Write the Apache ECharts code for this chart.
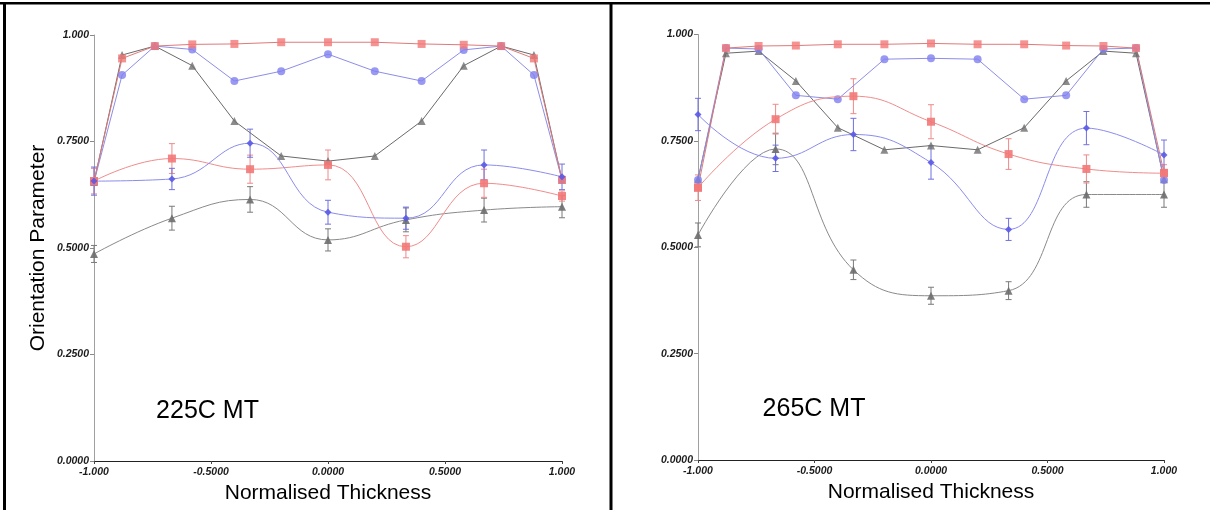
<!DOCTYPE html>
<html>
<head>
<meta charset="utf-8">
<script src="https://cdn.jsdelivr.net/npm/echarts@6/dist/echarts.min.js"></script>
<style>
  html, body { margin: 0; padding: 0; background: #fff; }
  #chart { width: 1210px; height: 510px; }
</style>
</head>
<body>
<div id="chart"></div>
<script>
// Through-thickness positions
const xOuter = [-1, -0.88, -0.74, -0.58, -0.4, -0.2, 0, 0.2, 0.4, 0.58, 0.74, 0.88, 1];
const xInner = [-1, -0.667, -0.333, 0, 0.333, 0.667, 1];

// Axis tick values
const yTicks = [0, 0.25, 0.5, 0.75, 1];
const xTicks = [-1, -0.5, 0, 0.5, 1];

// Panel titles
const panelTitles = ['225C MT', '265C MT'];

// 225C MT
const outerRed225  = [0.657, 0.945, 0.974, 0.978, 0.979, 0.983, 0.983, 0.983, 0.979, 0.977, 0.974, 0.945, 0.660];
const outerBlue225 = [0.655, 0.906, 0.974, 0.966, 0.892, 0.915, 0.955, 0.915, 0.892, 0.965, 0.974, 0.906, 0.660];
const outerGray225 = [0.655, 0.953, 0.974, 0.928, 0.798, 0.716, 0.704, 0.716, 0.798, 0.928, 0.974, 0.953, 0.660];
const innerBlue225 = [0.657, 0.662, 0.746, 0.584, 0.570, 0.695, 0.667];
const innerBlueErr225 = [0.033, 0.025, 0.033, 0.028, 0.026, 0.035, 0.030];
const innerRed225 = [0.657, 0.710, 0.685, 0.695, 0.503, 0.652, 0.622];
const innerRedErr225 = [0.030, 0.035, 0.033, 0.035, 0.026, 0.033, 0.012];
const innerGray225 = [0.486, 0.570, 0.614, 0.519, 0.566, 0.589, 0.597];
const innerGrayErr225 = [0.020, 0.028, 0.030, 0.026, 0.028, 0.028, 0.026];

// 265C MT
const outerRed265  = [0.640, 0.968, 0.973, 0.974, 0.977, 0.977, 0.979, 0.977, 0.977, 0.974, 0.973, 0.968, 0.675];
const outerBlue265 = [0.658, 0.968, 0.966, 0.857, 0.848, 0.942, 0.944, 0.942, 0.848, 0.857, 0.966, 0.968, 0.658];
const outerGray265 = [0.660, 0.956, 0.961, 0.891, 0.781, 0.729, 0.739, 0.729, 0.781, 0.891, 0.961, 0.956, 0.660];
const innerBlue265 = [0.812, 0.709, 0.765, 0.699, 0.542, 0.780, 0.717];
const innerBlueErr265 = [0.038, 0.031, 0.038, 0.039, 0.026, 0.039, 0.035];
const innerRed265 = [0.640, 0.801, 0.855, 0.795, 0.719, 0.684, 0.674];
const innerRedErr265 = [0.030, 0.035, 0.041, 0.040, 0.036, 0.033, 0.020];
const innerGray265 = [0.529, 0.731, 0.447, 0.386, 0.398, 0.624, 0.624];
const innerGrayErr265 = [0.028, 0.037, 0.023, 0.020, 0.021, 0.030, 0.030];

const RED = '#f27878', BLUE = '#7f7ff0', GRAY = '#6e6e6e', DBLUE = '#5a5ae6';

const pairs = (xs, ys) => xs.map((x, i) => [x, ys[i]]);
const bars = (xs, ys, es) => xs.map((x, i) => [x, ys[i] - es[i], ys[i] + es[i]]);

const tickFont = { fontFamily: 'Liberation Sans, Arial, sans-serif', fontSize: 10.5, fontWeight: 'bold', fontStyle: 'italic', color: '#1a1a1a' };

function yFmt(v) { return v === 1 ? '1.000' : v.toFixed(4); }
function xFmt(v) { return Math.abs(v) === 1 ? v.toFixed(3) : v.toFixed(4); }

function errorBars(color) {
  return function (params, api) {
    const x = api.value(0);
    const lo = api.coord([x, api.value(1)]);
    const hi = api.coord([x, api.value(2)]);
    const w = 3;
    const st = { stroke: color, lineWidth: 1 };
    return {
      type: 'group',
      children: [
        { type: 'line', shape: { x1: lo[0], y1: lo[1], x2: hi[0], y2: hi[1] }, style: st },
        { type: 'line', shape: { x1: lo[0] - w, y1: lo[1], x2: lo[0] + w, y2: lo[1] }, style: st },
        { type: 'line', shape: { x1: hi[0] - w, y1: hi[1], x2: hi[0] + w, y2: hi[1] }, style: st }
      ]
    };
  };
}

function panelSeries(idx, d) {
  const base = { xAxisIndex: idx, yAxisIndex: idx, animation: false };
  const outer = (name, ys, color, lineColor, symbol, size) => Object.assign({}, base, {
    type: 'line', name, data: pairs(xOuter, ys), symbol, symbolSize: size,
    lineStyle: { color: lineColor, width: 1 }, itemStyle: { color, opacity: 0.8 }, z: 3
  });
  const inner = (name, ys, color, lineColor, symbol, size) => Object.assign({}, base, {
    type: 'line', name, data: pairs(xInner, ys), smooth: 0.45, symbol, symbolSize: size,
    lineStyle: { color: lineColor, width: 1 }, itemStyle: { color, opacity: 0.9 }, z: 4
  });
  const err = (ys, es, color) => Object.assign({}, base, {
    type: 'custom', data: bars(xInner, ys, es), renderItem: errorBars(color),
    encode: { x: 0, y: [1, 2] }, z: 2, silent: true
  });
  return [
    outer('outerGray', d.oGray, GRAY, '#6a6a6a', 'triangle', 8),
    outer('outerBlue', d.oBlue, BLUE, '#8d8de8', 'circle', 8),
    outer('outerRed', d.oRed, RED, '#de7a7a', 'rect', 8),
    err(d.iGray, d.iGrayE, '#7a7a7a'),
    err(d.iRed, d.iRedE, '#ee8a8a'),
    err(d.iBlue, d.iBlueE, '#7070e0'),
    inner('innerGray', d.iGray, GRAY, '#8a8a8a', 'triangle', 8),
    inner('innerRed', d.iRed, RED, '#f08c8c', 'rect', 8),
    inner('innerBlue', d.iBlue, DBLUE, '#8c8cee', 'diamond', 7)
  ];
}

function xAxisDef(idx) {
  return {
    type: 'value', gridIndex: idx, min: -1, max: 1, interval: 0.5,
    axisLine: { onZero: false, lineStyle: { color: '#222', width: 1 } },
    axisTick: { show: true, length: 3, lineStyle: { color: '#444' } },
    splitLine: { show: false },
    axisLabel: Object.assign({ formatter: xFmt, margin: 6 }, tickFont),
    name: 'Normalised Thickness', nameLocation: 'middle', nameGap: 20,
    nameTextStyle: { fontFamily: 'Liberation Sans, Arial, sans-serif', fontSize: 21, color: '#000' }
  };
}

function yAxisDef(idx, withName) {
  const a = {
    type: 'value', gridIndex: idx, min: 0, max: 1, interval: 0.25,
    axisLine: { show: true, onZero: false, lineStyle: { color: '#a0a0a0', width: 1 } },
    axisTick: { show: true, length: 4, lineStyle: { color: '#888' } },
    splitLine: { show: false },
    axisLabel: Object.assign({ formatter: yFmt, margin: 5 }, tickFont)
  };
  if (withName) {
    a.name = 'Orientation Parameter';
    a.nameLocation = 'middle';
    a.nameGap = 45;
    a.nameTextStyle = { fontFamily: 'Liberation Sans, Arial, sans-serif', fontSize: 21, color: '#000' };
  }
  return a;
}

const chart = echarts.init(document.getElementById('chart'), null, { renderer: 'canvas' });

const option = {
  backgroundColor: '#fff',
  animation: false,
  grid: [
    { left: 94, top: 35, width: 468, height: 426 },
    { left: 698, top: 34.5, width: 466, height: 425.5 }
  ],
  xAxis: [xAxisDef(0), xAxisDef(1)],
  yAxis: [yAxisDef(0, true), yAxisDef(1, false)],
  series: [].concat(
    panelSeries(0, {
      oRed: outerRed225, oBlue: outerBlue225, oGray: outerGray225,
      iBlue: innerBlue225, iBlueE: innerBlueErr225,
      iRed: innerRed225, iRedE: innerRedErr225,
      iGray: innerGray225, iGrayE: innerGrayErr225
    }),
    panelSeries(1, {
      oRed: outerRed265, oBlue: outerBlue265, oGray: outerGray265,
      iBlue: innerBlue265, iBlueE: innerBlueErr265,
      iRed: innerRed265, iRedE: innerRedErr265,
      iGray: innerGray265, iGrayE: innerGrayErr265
    })
  ),
  graphic: [
    // table rules framing the two panels
    { type: 'rect', shape: { x: 0, y: 2, width: 1210, height: 2.5 }, style: { fill: '#000' }, silent: true },
    { type: 'rect', shape: { x: 3, y: 2, width: 3, height: 508 }, style: { fill: '#000' }, silent: true },
    { type: 'rect', shape: { x: 609.5, y: 2, width: 3, height: 508 }, style: { fill: '#000' }, silent: true },
    { type: 'text', x: 207.5, y: 411, style: { text: panelTitles[0], fontFamily: 'Liberation Sans, Arial, sans-serif', fontSize: 25, fill: '#000', align: 'center', verticalAlign: 'middle' } },
    { type: 'text', x: 814, y: 409, style: { text: panelTitles[1], fontFamily: 'Liberation Sans, Arial, sans-serif', fontSize: 25, fill: '#000', align: 'center', verticalAlign: 'middle' } }
  ]
};

chart.setOption(option);
</script>
</body>
</html>
